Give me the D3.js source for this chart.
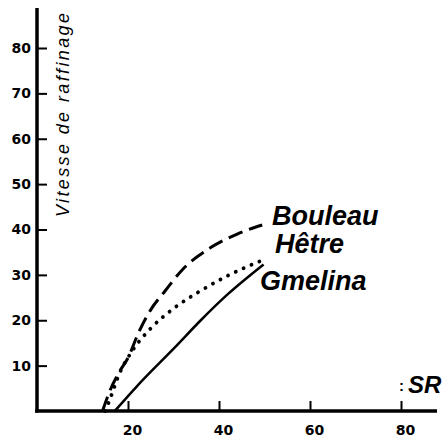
<!DOCTYPE html>
<html>
<head>
<meta charset="utf-8">
<script src="https://cdn.jsdelivr.net/npm/d3@7"></script>
<style>
  body { margin: 0; background: #fff; }
  svg { display: block; }
</style>
</head>
<body>
<svg id="svg" width="447" height="437"></svg>
<script>
var xTicks = [20, 40, 60, 80];
var yTicks = [10, 20, 30, 40, 50, 60, 70, 80];

var bouleauSR = [14.4, 16, 18.2, 20, 22.2, 24.8, 28.1, 32, 38, 44, 49.5];
var bouleauV  = [0, 4.4, 8.8, 11.7, 17, 22, 26.4, 31.2, 35.9, 39, 41];

var hetreSR = [15, 16, 18, 20.9, 24.8, 29.9, 35.8, 41.7, 49];
var hetreV  = [0, 2.5, 8, 13.2, 18, 22.5, 26.4, 29.7, 33];

var gmelinaSR = [17.1, 22, 30.3, 36, 42, 49.8];
var gmelinaV  = [0, 5.5, 14, 20, 25.8, 32.3];

var svg = d3.select("#svg");

var x = d3.scaleLinear().domain([0, 80]).range([37, 401]);
var y = d3.scaleLinear().domain([0, 80]).range([411, 48]);

// axes
var xAxis = d3.axisBottom(x).tickValues(xTicks).tickSize(-10).tickPadding(14).tickSizeOuter(0);
var yAxis = d3.axisLeft(y).tickValues(yTicks).tickSize(-10).tickPadding(6).tickSizeOuter(0);

var gx = svg.append("g").attr("transform", "translate(0," + y(0) + ")").call(xAxis);
var gy = svg.append("g").attr("transform", "translate(" + x(0) + ",0)").call(yAxis);

gx.select(".domain").remove();
gy.select(".domain").remove();

svg.append("line")
  .attr("x1", 35).attr("x2", 437)
  .attr("y1", y(0)).attr("y2", y(0))
  .attr("stroke", "#000").attr("stroke-width", 3.5);

svg.append("line")
  .attr("x1", x(0)).attr("x2", x(0))
  .attr("y1", 8).attr("y2", y(0) + 1.5)
  .attr("stroke", "#000").attr("stroke-width", 3.5);

[gx, gy].forEach(function(g){
  g.selectAll(".tick line").attr("stroke", "#000").attr("stroke-width", 2);
  g.selectAll(".tick text")
    .attr("fill", "#000")
    .style("font-family", "DejaVu Sans")
    .style("font-weight", "bold")
    .style("font-size", "14px");
});
gx.selectAll(".tick text").attr("dx", 4);

// axis titles
svg.append("text")
  .attr("transform", "translate(69,217) rotate(-90)")
  .attr("textLength", 204)
  .attr("lengthAdjust", "spacing")
  .style("font-family", "Liberation Sans")
  .style("font-style", "italic")
  .style("font-size", "18px")
  .text("Vitesse de raffinage");

svg.append("text")
  .attr("x", 399).attr("y", 391)
  .style("font-family", "Liberation Sans")
  .style("font-weight", "bold")
  .style("font-size", "15px")
  .text(":");

svg.append("text")
  .attr("x", 408).attr("y", 393)
  .style("font-family", "Liberation Sans")
  .style("font-weight", "bold")
  .style("font-style", "italic")
  .style("font-size", "24px")
  .text("SR");

// curves
function addCurve(srs, vs, dash, width){
  var pts = srs.map(function(s, i){ return [s, vs[i]]; });
  var line = d3.line()
    .x(function(d){ return x(d[0]); })
    .y(function(d){ return y(d[1]); })
    .curve(d3.curveMonotoneX);
  svg.append("path")
    .attr("d", line(pts))
    .attr("fill", "none")
    .attr("stroke", "#000")
    .attr("stroke-width", width)
    .attr("stroke-linecap", dash && dash.indexOf("0.1") == 0 ? "round" : "butt")
    .attr("stroke-dasharray", dash);
}

addCurve(bouleauSR, bouleauV, "15 7", 3);
addCurve(hetreSR, hetreV, "0.1 8.5", 3.8);
addCurve(gmelinaSR, gmelinaV, null, 2.5);

function addLabel(txt, px, py){
  svg.append("text")
    .attr("x", px).attr("y", py)
    .style("font-family", "Liberation Sans")
    .style("font-weight", "bold")
    .style("font-style", "italic")
    .style("font-size", "27px")
    .text(txt);
}
addLabel("Bouleau", 272, 225);
addLabel("Hêtre", 275, 253);
addLabel("Gmelina", 260, 290);
</script>
</body>
</html>
